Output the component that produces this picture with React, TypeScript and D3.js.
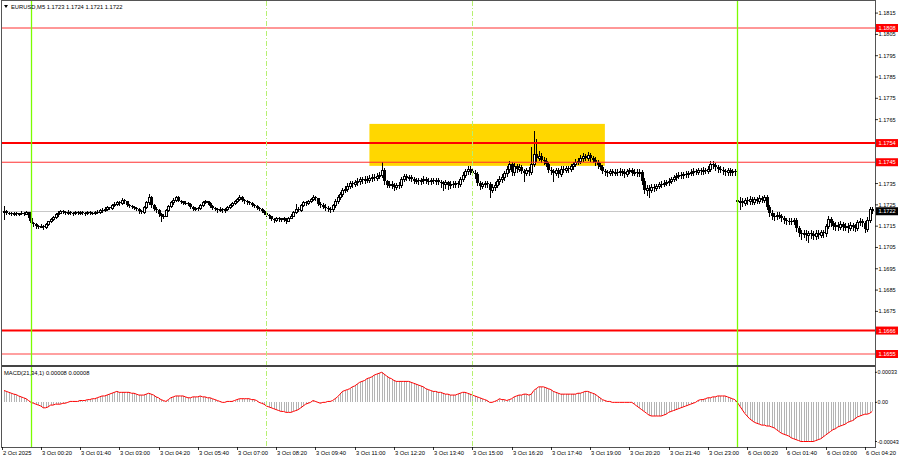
import React from "react";
import * as d3 from "d3";

// Prices are stored in points above 1.17000 (value / 100000 + 1.17)
const closes = [
  222, 212, 210, 206, 212, 208, 210, 214, 209, 216,
  186, 165, 158, 150, 148, 152, 145, 160, 172, 185,
  195, 205, 214, 222, 216, 212, 218, 214, 210, 215,
  212, 217, 213, 210, 216, 214, 211, 216, 218, 224,
  228, 232, 238, 236, 250, 256, 262, 258, 272, 266,
  250, 244, 240, 236, 232, 222, 218, 240, 262, 285,
  248, 232, 224, 205, 196, 200, 225, 245, 262, 275,
  286, 270, 266, 260, 258, 254, 240, 232, 236, 234,
  250, 262, 266, 258, 244, 236, 230, 226, 232, 224,
  230, 240, 250, 258, 268, 276, 288, 272, 266, 262,
  258, 250, 244, 236, 230, 222, 212, 202, 196, 184,
  178, 188, 182, 186, 180, 176, 190, 200, 215, 232,
  226, 250, 262, 258, 268, 278, 288, 280, 256, 248,
  242, 236, 232, 230, 248, 268, 285, 300, 318, 325,
  340, 352, 348, 356, 362, 370, 366, 372, 368, 376,
  382, 378, 386, 392, 415, 360, 345, 350, 340, 336,
  342, 345, 372, 384, 378, 380, 370, 364, 368, 362,
  366, 372, 364, 360, 368, 362, 366, 358, 352, 348,
  355, 342, 350, 346, 352, 348, 372, 392, 408, 418,
  408, 400, 396, 352, 340, 346, 352, 348, 320, 335,
  345, 360, 372, 380, 398, 418, 440, 402, 430, 420,
  428, 410, 400, 412, 404, 440, 490, 470, 480, 462,
  455, 440, 415, 408, 400, 412, 396, 420, 414, 422,
  418, 430, 440, 452, 458, 470, 478, 472, 482, 468,
  462, 450, 436, 428, 410, 402, 398, 408, 400, 406,
  402, 410, 404, 396, 408, 412, 400, 406, 398, 404,
  362, 318, 330, 320, 336, 330, 340, 346, 350, 354,
  356, 362, 372, 380, 386, 392, 388, 396, 394, 400,
  404, 410, 406, 412, 408, 414, 410, 418, 440, 436,
  426, 418, 414, 408, 404, 412, 402, 408, 404, 262,
  270, 258, 272, 268, 278, 264, 276, 270, 280, 274,
  286, 240, 210, 200, 196, 204, 198, 186, 178, 174,
  176, 172, 178, 140, 118, 112, 120, 108, 116, 112,
  104, 118, 110, 122, 116, 150, 182, 165, 150, 156,
  148, 160, 145, 152, 140, 155, 148, 142, 168, 172,
  165, 138, 180, 230, 220,
];

const highs = [
  246, 228, 218, 216, 216, 216, 214, 220, 218, 222,
  218, 190, 170, 164, 156, 158, 156, 164, 176, 190,
  200, 210, 220, 228, 226, 220, 224, 222, 218, 220,
  220, 222, 220, 216, 222, 220, 218, 222, 224, 230,
  234, 238, 244, 242, 256, 262, 268, 266, 280, 276,
  270, 256, 250, 246, 242, 236, 228, 246, 268, 302,
  290, 254, 238, 230, 212, 206, 230, 250, 268, 282,
  292, 290, 274, 270, 266, 264, 258, 246, 242, 242,
  256, 268, 272, 270, 262, 250, 242, 236, 238, 236,
  236, 246, 256, 264, 274, 282, 296, 292, 278, 272,
  270, 264, 256, 250, 240, 236, 228, 218, 208, 200,
  190, 194, 192, 190, 192, 186, 194, 206, 220, 256,
  240, 256, 268, 266, 274, 284, 296, 292, 284, 262,
  258, 252, 246, 242, 256, 276, 296, 310, 328, 338,
  352, 364, 362, 368, 374, 382, 382, 384, 384, 388,
  394, 394, 398, 404, 452, 424, 368, 362, 362, 352,
  354, 358, 382, 396, 394, 392, 390, 380, 378, 378,
  376, 384, 382, 374, 378, 378, 376, 378, 368, 364,
  366, 364, 362, 360, 364, 362, 382, 402, 418, 432,
  430, 420, 412, 406, 364, 356, 364, 364, 358, 346,
  358, 372, 384, 394, 410, 430, 458, 452, 446, 442,
  442, 438, 420, 424, 426, 522, 597, 560, 502, 492,
  476, 468, 452, 428, 420, 424, 424, 430, 434, 434,
  434, 442, 452, 464, 470, 482, 492, 490, 498, 494,
  480, 474, 460, 448, 438, 420, 414, 418, 420, 418,
  418, 422, 420, 416, 420, 425, 422, 416, 418, 416,
  414, 374, 342, 344, 346, 348, 350, 356, 362, 366,
  368, 374, 382, 392, 398, 404, 402, 406, 408, 410,
  416, 422, 420, 424, 422, 426, 424, 430, 456, 454,
  446, 438, 430, 426, 420, 424, 422, 418, 420, 288,
  286, 282, 284, 286, 290, 288, 288, 288, 294, 292,
  298, 296, 250, 224, 214, 216, 216, 208, 196, 190,
  188, 188, 190, 188, 152, 132, 132, 134, 126, 130,
  126, 130, 130, 134, 134, 162, 196, 194, 176, 168,
  170, 172, 170, 164, 164, 168, 166, 160, 180, 188,
  184, 176, 192, 242, 240,
];

const lows = [
  185, 208, 206, 202, 202, 204, 204, 206, 204, 206,
  180, 160, 150, 142, 140, 144, 138, 142, 156, 168,
  180, 190, 200, 210, 212, 206, 208, 208, 204, 206,
  206, 208, 208, 204, 206, 208, 206, 208, 212, 214,
  218, 222, 228, 230, 232, 244, 250, 250, 254, 258,
  244, 238, 234, 230, 226, 214, 210, 214, 236, 256,
  240, 226, 218, 196, 176, 186, 196, 220, 240, 256,
  270, 266, 260, 254, 252, 248, 236, 226, 226, 228,
  230, 246, 258, 252, 240, 230, 224, 218, 220, 216,
  218, 226, 236, 244, 252, 262, 272, 268, 260, 256,
  252, 244, 238, 230, 224, 216, 206, 196, 188, 178,
  170, 172, 174, 176, 172, 166, 172, 186, 196, 210,
  220, 222, 246, 250, 252, 262, 272, 274, 250, 240,
  234, 226, 222, 218, 222, 240, 258, 276, 292, 308,
  314, 328, 336, 338, 344, 350, 354, 354, 356, 358,
  364, 366, 368, 376, 382, 348, 332, 334, 328, 322,
  324, 330, 336, 362, 366, 366, 360, 352, 354, 350,
  350, 354, 354, 348, 350, 352, 350, 346, 334, 319,
  330, 324, 330, 334, 334, 336, 340, 362, 380, 396,
  396, 388, 378, 342, 324, 328, 334, 334, 288, 308,
  322, 332, 348, 358, 368, 386, 406, 390, 392, 406,
  408, 398, 363, 390, 392, 394, 430, 456, 460, 450,
  444, 430, 402, 394, 363, 390, 380, 384, 402, 402,
  404, 408, 418, 430, 440, 446, 458, 460, 460, 456,
  450, 438, 424, 416, 398, 390, 384, 388, 388, 390,
  390, 392, 392, 382, 386, 398, 390, 388, 386, 386,
  350, 306, 296, 288, 308, 316, 318, 328, 334, 338,
  342, 344, 352, 360, 368, 374, 376, 378, 382, 382,
  388, 392, 394, 394, 396, 396, 398, 400, 408, 424,
  414, 406, 402, 394, 392, 392, 390, 390, 392, 232,
  232, 244, 248, 254, 256, 252, 254, 258, 260, 262,
  264, 230, 198, 184, 180, 184, 186, 172, 164, 160,
  160, 158, 160, 128, 104, 90, 98, 84, 77, 94,
  88, 92, 96, 98, 100, 106, 140, 152, 136, 134,
  134, 136, 130, 134, 124, 130, 134, 126, 132, 154,
  152, 122, 128, 170, 210,
];

// Bars whose open does not equal the previous close: [bar, open]
const gapOpens = [
  [0, 218],
  [299, 275],
];

// MACD(21,34,1) main value per bar, in units of 0.00001
const macd = [
  13, 12, 11, 10, 9, 8.5, 7, 6, 5, 4,
  2, 0, -1, -2, -3, -4, -6, -6, -5, -3,
  -3, -2, -2, -2, -1, -1, 0, 1, 1, 1,
  1, 2, 2, 2, 3, 3, 4, 4, 5, 6,
  7, 7, 8, 9, 10, 11, 12, 11, 11, 11,
  11, 11, 10, 10, 9, 8, 8, 8, 9, 10,
  9, 8, 6, 5, 3, 2, 1, 3, 5, 6,
  7, 7, 7, 7, 6, 5, 5, 6, 6, 6,
  7, 6, 6, 5, 5, 4, 3, 2, 1, 0,
  0, 1, 1, 1, 2, 3, 4, 4, 4, 4,
  4, 3, 3, 2, 0, -1, -2, -4, -5, -6,
  -7, -8, -9, -10, -10, -11, -11, -11, -10, -9,
  -8, -6, -4, -2, -1, 0, 2, 1, 0, -1,
  0, 0, 1, 1, 2, 4, 6, 9, 12, 13,
  14, 15, 17, 18, 20, 22, 23, 24, 26, 27,
  28, 30, 31, 32, 33, 31, 29, 27, 26, 24,
  23, 23, 23, 23, 23, 23, 22, 21, 20, 19,
  18, 17, 15, 14, 13, 12, 12, 11, 11, 10,
  9, 9, 8, 8, 8, 9, 10, 11, 11, 10,
  9, 8, 7, 6, 5, 4, 3, 2, 0, 0,
  1, 2, 4, 3, 3, 2, 3, 4, 6, 7,
  8, 8, 9, 9, 8, 9, 13, 15, 17, 17,
  17, 16, 15, 14, 12, 11, 10, 9, 9, 9,
  9, 9, 9, 9, 10, 10, 11, 12, 12, 11,
  10, 9, 7, 5, 3, 2, 1, 1, 0, 0,
  0, 0, 0, 0, 0, 0, 0, -2, -4, -6,
  -8, -10, -12, -14, -15, -15, -15, -15, -15, -14,
  -13, -11, -10, -9, -8, -7, -6, -5, -4, -3,
  -2, -1, 0, 2, 3, 3, 4, 5, 5, 6,
  6, 7, 7, 7, 7, 6, 5, 4, 3, 0,
  -4, -8, -12, -15, -18, -20, -22, -23, -24, -25,
  -25, -26, -26, -27, -28, -30, -32, -34, -35, -36,
  -37, -39, -40, -41, -42, -43, -43, -43, -43, -43,
  -43, -42, -41, -40, -38, -36, -34, -32, -30, -29,
  -27, -26, -25, -24, -22, -21, -20, -18, -16, -15,
  -14, -13, -13, -12, -10,
];

const timeLabels = [
  "2 Oct 2025", "3 Oct 00:20", "3 Oct 01:40", "3 Oct 03:00", "3 Oct 04:20",
  "3 Oct 05:40", "3 Oct 07:00", "3 Oct 08:20", "3 Oct 09:40", "3 Oct 11:00",
  "3 Oct 12:20", "3 Oct 13:40", "3 Oct 15:00", "3 Oct 16:20", "3 Oct 17:40",
  "3 Oct 19:00", "3 Oct 20:20", "3 Oct 21:40", "3 Oct 23:00", "6 Oct 00:20",
  "6 Oct 01:40", "6 Oct 03:00", "6 Oct 04:20",
];
const timeLabelBars = [
  0, 15, 31, 47, 63, 79, 95, 111, 127, 143, 159, 175, 191, 207, 223, 239,
  255, 271, 287, 303, 319, 335, 351,
];

const priceTicks = [
  1.1815, 1.1805, 1.1795, 1.1785, 1.1775, 1.1765, 1.1755, 1.1745, 1.1735,
  1.1725, 1.1715, 1.1705, 1.1695, 1.1685, 1.1675, 1.1665, 1.1655,
];
const levelPrices = [1.1808, 1.1754, 1.1745, 1.1666, 1.1655];
const bidPrice = 1.1722;
const macdTicks = [0.00033, 0, -0.00043];
const macdTickLabels = ["0.00033", "0.00", "-0.00043"];

const dayStartBars = [11, 299];
const sessionBars = [107, 191];
const zoneBars = [149, 245];
const zonePrices = [1.17433, 1.1763];

const headerText = "EURUSD,M5  1.1723 1.1724 1.1721 1.1722";
const macdText = "MACD(21,34,1) 0.00008 0.00008";

const FONT = "'Liberation Sans', Arial, sans-serif";

export default function App() {
  const N = closes.length;
  const L = 2, R = 875, T = 1, SEP = 366, B = 447;

  const x = d3.scaleLinear().domain([0, N - 1]).range([4, 872.2]);
  const y = d3.scaleLinear().domain([1.1655, 1.1808]).range([354, 28]);
  const ym = d3.scaleLinear().domain([-0.00043, 0.00033]).range([441.5, 372.3]);
  const P = (v: number) => 1.17 + v / 100000;

  const gapMap = new Map(gapOpens.map((g) => [g[0], g[1]]));
  const opens = closes.map((c, i) => (gapMap.has(i) ? (gapMap.get(i) as number) : closes[i - 1]));

  const levelWidth = [1, 2, 1, 2, 1.6];
  const levelColor = ["#ff3030", "#ff0000", "#ff3030", "#ff0000", "#ff8080"];

  const macdLine = d3
    .line<number>()
    .x((_, i) => x(i))
    .y((d) => ym(d / 100000));

  const fmt = d3.format(".4f");
  const boxed = [...levelPrices, bidPrice];
  const visibleTicks = priceTicks.filter((p) => boxed.every((b) => Math.abs(y(p) - y(b)) > 5));

  const AX = 5.6;

  return (
    <svg width={900} height={460} style={{ display: "block", position: "absolute", left: 0, top: 0, background: "#fff" }}>
      <rect x={0} y={0} width={900} height={460} fill="#ffffff" />
      <defs>
        <clipPath id="mainClip">
          <rect x={L} y={T} width={R - L} height={SEP - T} />
        </clipPath>
        <clipPath id="macdClip">
          <rect x={L} y={SEP + 1} width={R - L} height={B - SEP - 1} />
        </clipPath>
      </defs>

      {/* yellow zone */}
      <rect
        x={x(zoneBars[0])}
        y={y(zonePrices[1])}
        width={x(zoneBars[1]) - x(zoneBars[0])}
        height={y(zonePrices[0]) - y(zonePrices[1])}
        fill="#ffd700"
      />

      {/* bid line */}
      <line x1={L} x2={R} y1={Math.round(y(bidPrice)) + 0.5} y2={Math.round(y(bidPrice)) + 0.5} stroke="#c8c8c8" strokeWidth={1} />

      {/* candles */}
      <g clipPath="url(#mainClip)" shapeRendering="crispEdges">
        {closes.map((cv, i) => {
          const o = P(opens[i]);
          const c = P(cv);
          const h = P(Math.max(highs[i], opens[i], cv));
          const l = P(Math.min(lows[i], opens[i], cv));
          const xc = Math.round(x(i));
          const yTop = Math.round(y(Math.max(o, c)));
          const yBot = Math.round(y(Math.min(o, c)));
          const bull = c > o;
          return (
            <g key={i}>
              <line x1={xc + 0.5} x2={xc + 0.5} y1={Math.round(y(h))} y2={Math.round(y(l)) + 1} stroke="#000" strokeWidth={1} />
              {yBot - yTop >= 1 ? (
                bull ? (
                  <rect x={xc - 0.5} y={yTop + 0.5} width={2} height={Math.max(yBot - yTop, 1)} fill="#fff" stroke="#000" strokeWidth={1} />
                ) : (
                  <rect x={xc - 1} y={yTop} width={3} height={Math.max(yBot - yTop, 1)} fill="#000" />
                )
              ) : (
                <line x1={xc - 1} x2={xc + 2} y1={yTop + 0.5} y2={yTop + 0.5} stroke="#000" strokeWidth={1} />
              )}
            </g>
          );
        })}
      </g>

      {/* level lines */}
      {levelPrices.map((p, k) => (
        <line key={k} x1={L} x2={R} y1={y(p)} y2={y(p)} stroke={levelColor[k]} strokeWidth={levelWidth[k]} />
      ))}

      {/* macd histogram */}
      <g clipPath="url(#macdClip)" shapeRendering="crispEdges">
        {macd.map((m, i) => {
          const xc = Math.round(x(i)) + 0.5;
          return <line key={i} x1={xc} x2={xc} y1={ym(0)} y2={ym(m / 100000)} stroke="#b4b4b4" strokeWidth={1} />;
        })}
        <path d={macdLine(macd) || ""} fill="none" stroke="#ff0000" strokeWidth={1} shapeRendering="auto" />
      </g>

      {/* vertical separators */}
      {dayStartBars.map((b, k) => (
        <line key={"d" + k} x1={Math.round(x(b)) + 0.5} x2={Math.round(x(b)) + 0.5} y1={T} y2={B} stroke="#7cfc00" strokeWidth={1.3} />
      ))}
      {sessionBars.map((b, k) => (
        <line key={"s" + k} x1={Math.round(x(b)) + 0.5} x2={Math.round(x(b)) + 0.5} y1={T} y2={B} stroke="#b6f070" strokeWidth={1} strokeDasharray="5,2,1,2" />
      ))}

      {/* frames */}
      <rect x={L - 0.5} y={T - 0.5} width={R - L + 1} height={B - T + 1} fill="none" stroke="#555" strokeWidth={1} />
      <line x1={L} x2={R} y1={SEP} y2={SEP} stroke="#444" strokeWidth={2} />

      {/* header */}
      <path d="M4,5 L8,5 L6,8 Z" fill="#000" />
      <text x={11} y={8.5} fontFamily={FONT} fontSize={5.8} fill="#000">{headerText}</text>
      <text x={4} y={375} fontFamily={FONT} fontSize={5.8} fill="#000">{macdText}</text>

      {/* price axis */}
      <g fontFamily={FONT} fontSize={AX} fill="#000">
        {visibleTicks.map((p, k) => (
          <g key={k}>
            <line x1={R} x2={R + 3} y1={y(p)} y2={y(p)} stroke="#000" strokeWidth={0.8} />
            <text x={R + 3.5} y={y(p) + 2}>{fmt(p)}</text>
          </g>
        ))}
      </g>
      {levelPrices.map((p, k) => (
        <g key={"lb" + k}>
          <rect x={R + 1} y={y(p) - 4} width={22} height={8} fill="#ff0000" />
          <text x={R + 3.5} y={y(p) + 2} fontFamily={FONT} fontSize={AX} fill="#fff">{fmt(p)}</text>
        </g>
      ))}
      <rect x={R + 1} y={y(bidPrice) - 4} width={22} height={8} fill="#000" />
      <text x={R + 3.5} y={y(bidPrice) + 2} fontFamily={FONT} fontSize={AX} fill="#fff">{fmt(bidPrice)}</text>

      {/* macd axis */}
      <g fontFamily={FONT} fontSize={5.4} fill="#000">
        {macdTicks.map((m, k) => (
          <g key={k}>
            <line x1={R} x2={R + 2} y1={ym(m)} y2={ym(m)} stroke="#000" strokeWidth={0.8} />
            <text x={R + 2.5} y={ym(m) + 2}>{macdTickLabels[k]}</text>
          </g>
        ))}
      </g>

      {/* time axis */}
      <g fontFamily={FONT} fontSize={5.8} fill="#000">
        {timeLabels.map((t, k) => {
          const bx = timeLabelBars[k] === 0 ? L : Math.round(x(timeLabelBars[k]));
          return (
            <g key={k}>
              <line x1={bx + 0.5} x2={bx + 0.5} y1={B} y2={B + 3} stroke="#000" strokeWidth={0.8} />
              <text x={bx + 1} y={455}>{t}</text>
            </g>
          );
        })}
      </g>
    </svg>
  );
}
